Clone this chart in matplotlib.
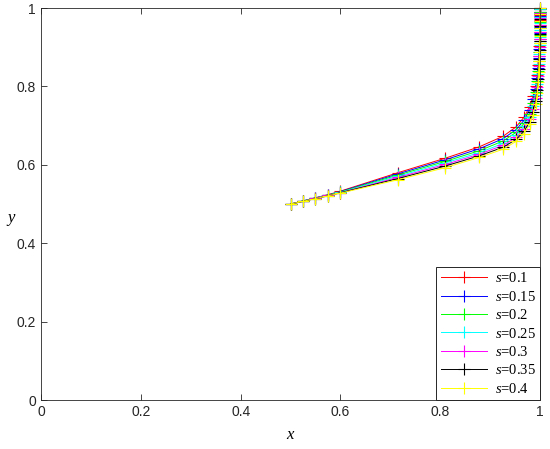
import matplotlib
matplotlib.use("Agg")
import matplotlib.pyplot as plt

plt.rcParams["font.family"] = ["Liberation Sans", "DejaVu Sans"]
plt.rcParams["mathtext.fontset"] = "custom"
plt.rcParams["mathtext.rm"] = "Liberation Serif"
plt.rcParams["mathtext.it"] = "Liberation Serif:italic"

# shared sample positions along x
x = [0.500, 0.525, 0.550, 0.575, 0.600, 0.715, 0.810, 0.878, 0.926, 0.952,
     0.968, 0.979, 0.986, 0.991, 0.994, 0.996, 0.997, 0.998, 0.999, 0.999,
     1.000, 1.000, 1.000, 1.000, 1.000]

labels = ["0.1", "0.15", "0.2", "0.25", "0.3", "0.35", "0.4"]
colors = ["#ff0000", "#0000ff", "#00ff00", "#00ffff", "#ff00ff", "#000000", "#ffff00"]

y_s010 = [0.500, 0.508, 0.516, 0.524, 0.533, 0.580, 0.617, 0.646, 0.673, 0.697,
          0.722, 0.748, 0.775, 0.802, 0.829, 0.855, 0.879, 0.902, 0.922, 0.940,
          0.956, 0.970, 0.982, 0.991, 0.997]
y_s015 = [0.500, 0.508, 0.516, 0.523, 0.532, 0.577, 0.613, 0.641, 0.667, 0.690,
          0.714, 0.740, 0.767, 0.794, 0.821, 0.848, 0.872, 0.896, 0.917, 0.936,
          0.952, 0.967, 0.980, 0.990, 0.997]
y_s020 = [0.500, 0.508, 0.515, 0.523, 0.531, 0.574, 0.609, 0.636, 0.661, 0.683,
          0.706, 0.731, 0.758, 0.786, 0.813, 0.840, 0.865, 0.889, 0.911, 0.931,
          0.948, 0.964, 0.978, 0.989, 0.998]
y_s025 = [0.500, 0.507, 0.515, 0.522, 0.530, 0.571, 0.605, 0.631, 0.655, 0.676,
          0.698, 0.723, 0.750, 0.778, 0.806, 0.833, 0.858, 0.883, 0.905, 0.926,
          0.944, 0.961, 0.976, 0.988, 0.998]
y_s030 = [0.500, 0.507, 0.515, 0.522, 0.529, 0.568, 0.601, 0.627, 0.650, 0.670,
          0.692, 0.716, 0.742, 0.770, 0.798, 0.826, 0.852, 0.877, 0.900, 0.921,
          0.940, 0.958, 0.974, 0.987, 0.999]
y_s035 = [0.500, 0.507, 0.514, 0.521, 0.529, 0.565, 0.597, 0.623, 0.645, 0.665,
          0.686, 0.709, 0.735, 0.762, 0.790, 0.818, 0.845, 0.870, 0.894, 0.916,
          0.935, 0.954, 0.971, 0.986, 0.999]
y_s040 = [0.500, 0.507, 0.514, 0.521, 0.528, 0.562, 0.593, 0.619, 0.640, 0.660,
          0.680, 0.703, 0.728, 0.755, 0.783, 0.811, 0.838, 0.864, 0.888, 0.910,
          0.930, 0.950, 0.968, 0.985, 1.000]

series = [y_s010, y_s015, y_s020, y_s025, y_s030, y_s035, y_s040]

fig = plt.figure(figsize=(5.5, 4.49), dpi=100)
ax = fig.add_axes([0.0745, 0.109, 0.9075, 0.873])

for ys, lab, c in zip(series, labels, colors):
    ax.plot(x, ys, color=c, lw=0.7, marker="+", ms=8, mew=0.8,
            label="$s$=" + lab, clip_on=False)

ax.set_xlim(0, 1)
ax.set_ylim(0, 1)
ax.set_xticks([0, 0.2, 0.4, 0.6, 0.8, 1])
ax.set_xticklabels(["0", "0.2", "0.4", "0.6", "0.8", "1"])
ax.set_yticks([0, 0.2, 0.4, 0.6, 0.8, 1])
ax.set_yticklabels(["0", "0.2", "0.4", "0.6", "0.8", "1"])
ax.tick_params(direction="in", top=True, right=True, labelsize=10,
               colors="#262626", length=4, width=0.6)
for sp in ax.spines.values():
    sp.set_color("#262626")
    sp.set_linewidth(0.6)

ax.set_xlabel("$x$", fontsize=12, labelpad=6)
ax.set_ylabel("$y$", fontsize=12, rotation=0, labelpad=8)
ax.yaxis.set_label_coords(-0.06, 0.44)

leg = ax.legend(loc="lower right", frameon=True, fancybox=False,
                prop={"family": "Liberation Serif", "size": 10.5},
                borderaxespad=0, handlelength=3.2, labelspacing=0.3,
                borderpad=0.3, handletextpad=0.5)
leg.get_frame().set_edgecolor("#262626")
leg.get_frame().set_linewidth(0.7)
leg.get_frame().set_alpha(1)

fig.savefig("out.png", dpi=100)
